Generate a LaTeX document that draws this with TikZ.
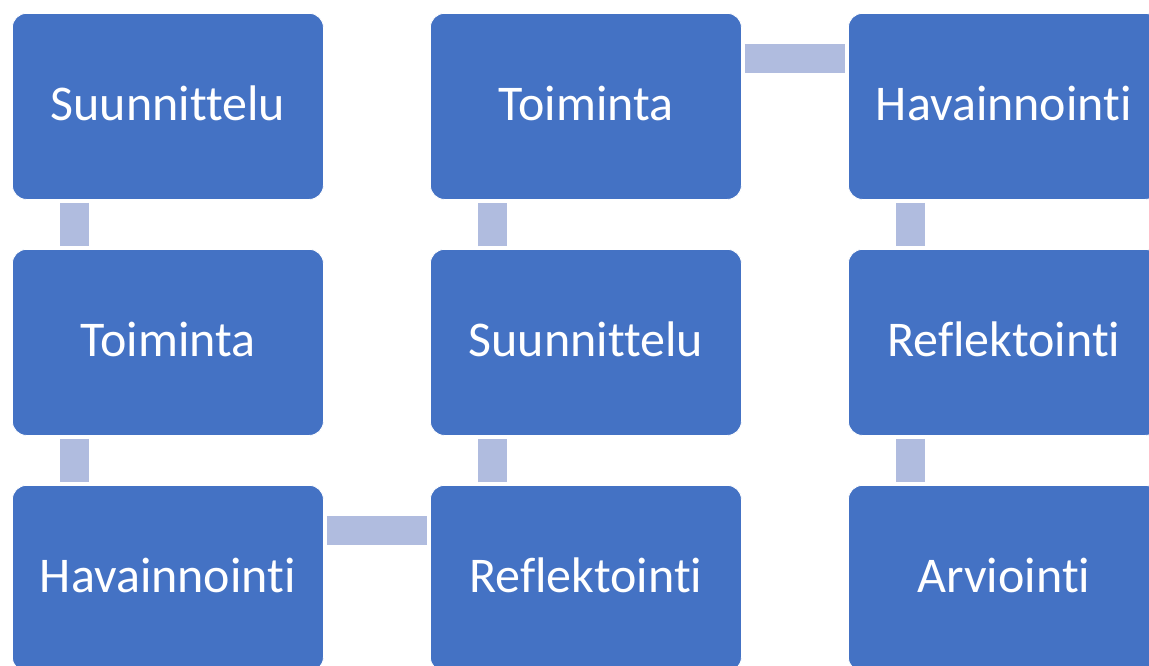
\documentclass[tikz,border=0pt]{standalone}
\usepackage{fontspec}
\setmainfont{Carlito}[Ligatures=NoCommon]
\definecolor{boxblue}{HTML}{4472C4}
\definecolor{connblue}{HTML}{B0BCDF}
\begin{document}
\begin{tikzpicture}[x=1pt,y=-1pt,
  stepbox/.style={rectangle, rounded corners=14pt, fill=boxblue, draw=white, line width=0.8pt,
    minimum width=311pt, minimum height=186pt, inner sep=0pt, anchor=north west,
    text=white, font=\fontsize{50}{60}\selectfont, text height=34pt, text depth=6pt},
  conn/.style={draw=connblue, line width=29pt, shorten >=3pt, shorten <=3pt}]
\clip (0,0) rectangle (1149,666);
\fill[white] (0,0) rectangle (1149,666);
\node[stepbox] (a1) at (12,13) {Suunnittelu};
\node[stepbox] (a2) at (12,249) {Toiminta};
\node[stepbox] (a3) at (12,485) {Havainnointi};
\node[stepbox] (b3) at (430,485) {Reflektointi};
\node[stepbox] (b2) at (430,249) {Suunnittelu};
\node[stepbox] (b1) at (430,13) {Toiminta};
\node[stepbox] (c1) at (848,13) {Havainnointi};
\node[stepbox] (c2) at (848,249) {Reflektointi};
\node[stepbox] (c3) at (848,485) {Arviointi};
\draw[conn] ([xshift=62.5pt]a1.south west) -- ([xshift=62.5pt]a2.north west);
\draw[conn] ([xshift=62.5pt]a2.south west) -- ([xshift=62.5pt]a3.north west);
\draw[conn] ([yshift=-45.5pt]a3.north east) -- ([yshift=-45.5pt]b3.north west);
\draw[conn] ([xshift=62.5pt]b3.north west) -- ([xshift=62.5pt]b2.south west);
\draw[conn] ([xshift=62.5pt]b2.north west) -- ([xshift=62.5pt]b1.south west);
\draw[conn] ([yshift=-45.5pt]b1.north east) -- ([yshift=-45.5pt]c1.north west);
\draw[conn] ([xshift=62.5pt]c1.south west) -- ([xshift=62.5pt]c2.north west);
\draw[conn] ([xshift=62.5pt]c2.south west) -- ([xshift=62.5pt]c3.north west);
\end{tikzpicture}
\end{document}
